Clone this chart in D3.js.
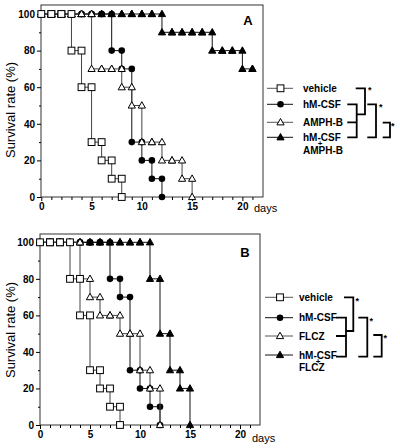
<!DOCTYPE html>
<html><head><meta charset="utf-8">
<script src="https://cdn.jsdelivr.net/npm/d3@7"></script>
<style>body{margin:0;background:#fff}svg{display:block}text{font-family:"Liberation Sans",Arial,sans-serif}</style>
</head><body>
<svg id="c" width="400" height="448"></svg>
<script>
// survival (%) at end of each day, index = day
const vehicleA = [100,100,100,80,60,30,20,10,0];
const hmcsfA   = [100,100,100,100,100,100,100,80,70,30,20,10,0];
const amphbA   = [100,100,100,100,100,70,70,70,60,50,30,30,20,20,10,0];
const comboA   = [100,100,100,100,100,100,100,100,100,100,100,100,90,90,90,90,90,80,80,80,70,70];
const vehicleB = [100,100,100,80,60,30,20,10,0];
const hmcsfB   = [100,100,100,100,100,100,100,80,70,30,20,10,0];
const flczB    = [100,100,100,100,80,70,60,60,50,50,30,20,0];
const comboB   = [100,100,100,100,100,100,100,100,100,100,100,80,50,30,20,0];
const yTicks = [0,20,40,60,80,100];
const yMinor = [10,30,50,70,90];
const xTicks = d3.range(0,22);
const labelsA = ["vehicle","hM-CSF","AMPH-B","hM-CSF"];
const labelsB = ["vehicle","hM-CSF","FLCZ","hM-CSF"];
const comboSecondA = "AMPH-B", comboSecondB = "FLCZ";

const svg = d3.select("#c");
const FONT = '"Liberation Sans",Arial,sans-serif';

function marker(g, type, x, y){
  if(type==="square"){
    g.append("rect").attr("x",x-3.4).attr("y",y-3.4).attr("width",6.8).attr("height",6.8)
      .attr("fill","#fff").attr("stroke","#000").attr("stroke-width",1);
  } else if(type==="circle"){
    g.append("circle").attr("cx",x).attr("cy",y).attr("r",3.3).attr("fill","#000");
  } else {
    const filled = type==="triFilled";
    g.append("path").attr("d",`M${x},${y-3.8}L${x+3.6},${y+2.6}L${x-3.6},${y+2.6}Z`)
      .attr("fill",filled?"#000":"#fff").attr("stroke","#000").attr("stroke-width",1);
  }
}

function panel(cfg){
  const {x,y,frame,series,letter,letterPos,daysPos,titleY} = cfg;
  const g = svg.append("g");
  g.append("rect").attr("x",frame[0]).attr("y",frame[1]).attr("width",frame[2]-frame[0]).attr("height",frame[3]-frame[1])
    .attr("fill","none").attr("stroke","#333").attr("stroke-width",1);
  const ya = g.append("g").attr("transform",`translate(${frame[0]},0)`)
    .call(d3.axisLeft(y).tickValues(yTicks).tickSize(4).tickPadding(2));
  ya.select(".domain").remove();
  ya.selectAll("text").attr("font-family",FONT).attr("font-size",10).attr("font-weight","bold").attr("fill","#000");
  const ym = g.append("g").attr("transform",`translate(${frame[0]},0)`)
    .call(d3.axisLeft(y).tickValues(yMinor).tickSize(2).tickFormat(""));
  ym.select(".domain").remove();
  const xa = g.append("g").attr("transform",`translate(0,${frame[3]})`)
    .call(d3.axisBottom(x).tickValues(xTicks).tickSize(3).tickPadding(3).tickFormat(d=>d%5===0?d:""));
  xa.select(".domain").remove();
  xa.selectAll(".tick line").attr("y2",d=>d%5===0?4:3);
  xa.selectAll("text").attr("font-family",FONT).attr("font-size",10).attr("font-weight","bold").attr("fill","#000");
  g.append("text").attr("transform",`translate(15,${titleY}) rotate(-90)`).attr("text-anchor","middle")
    .attr("font-size",13).text("Survival rate (%)");
  g.append("text").attr("x",daysPos[0]).attr("y",daysPos[1]).attr("font-size",11).text("days");
  g.append("text").attr("x",letterPos[0]).attr("y",letterPos[1]).attr("text-anchor","middle")
    .attr("font-size",13).attr("font-weight","bold").text(letter);
  const line = d3.line().x((d,i)=>x(i)).y(d=>y(d)).curve(d3.curveStepAfter);
  series.forEach(s=>{
    const sg = g.append("g");
    sg.append("path").attr("d",line(s.data)).attr("fill","none").attr("stroke",s.lc).attr("stroke-width",1);
    s.data.forEach((v,i)=>{
      if(i>0) marker(sg,s.type,x(i),y(s.data[i-1]));
      marker(sg,s.type,x(i),y(v));
    });
  });
}

panel({
  x: d3.scaleLinear([0,22],[41.3,262.5]),
  y: d3.scaleLinear([0,100],[197,14]),
  frame:[41,5,263,197],
  series:[
    {data:comboA,type:"triFilled",lc:"#111"},
    {data:hmcsfA,type:"circle",lc:"#111"},
    {data:amphbA,type:"triOpen",lc:"#444"},
    {data:vehicleA,type:"square",lc:"#444"}
  ],
  letter:"A", letterPos:[248,25], daysPos:[254,212], titleY:110
});
panel({
  x: d3.scaleLinear([0,22],[40,260]),
  y: d3.scaleLinear([0,100],[425,242.3]),
  frame:[40,234,260,425],
  series:[
    {data:comboB,type:"triFilled",lc:"#111"},
    {data:hmcsfB,type:"circle",lc:"#111"},
    {data:flczB,type:"triOpen",lc:"#444"},
    {data:vehicleB,type:"square",lc:"#444"}
  ],
  letter:"B", letterPos:[245,257], daysPos:[252,442], titleY:330
});

function legend(cfg){
  const g = svg.append("g");
  const types=["square","circle","triOpen","triFilled"];
  cfg.rows.forEach((ry,i)=>{
    g.append("line").attr("x1",cfg.lx[0]).attr("x2",cfg.lx[1]).attr("y1",ry).attr("y2",ry)
      .attr("stroke",i%2===0?"#555":"#111").attr("stroke-width",1);
    marker(g,types[i],cfg.mx,ry);
    g.append("text").attr("x",cfg.tx).attr("y",ry+3.6).attr("font-size",10).attr("font-weight","bold").text(cfg.labels[i]);
  });
  g.append("text").attr("x",cfg.plus[0]).attr("y",cfg.plus[1]+3).attr("text-anchor","middle")
    .attr("font-size",8).attr("font-weight","bold").text("+");
  g.append("text").attr("x",cfg.tx).attr("y",cfg.second+3.6).attr("font-size",10).attr("font-weight","bold").text(cfg.secondLabel);
  const pth = g.append("g").attr("fill","none").attr("stroke","#000").attr("stroke-width",1.8);
  cfg.brackets.forEach(b=>{ pth.append("path").attr("d",b); });
  cfg.stars.forEach(s=>{
    g.append("text").attr("x",s[0]).attr("y",s[1]+5).attr("font-size",9).attr("font-weight","bold").attr("fill","#000").text("*");
  });
}

legend({
  rows:[88.3,104.3,122.3,137.3], lx:[267,293], mx:280.5, tx:303,
  labels:labelsA, plus:[320,143], second:150.5, secondLabel:comboSecondA,
  brackets:[
    "M355.7,88.3H365V114.3H356.7",
    "M347.3,104.3H356.7V137.3H347.3M347.3,122.3H356.7",
    "M367.3,104.3H376V137.3H367.3",
    "M382.7,122.7H390V137.3H382.7"
  ],
  stars:[[368,88.3],[379,105],[391,123.5]]
});
legend({
  rows:[297.3,317.7,336,355], lx:[265,293], mx:280, tx:299,
  labels:labelsB, plus:[318,360.5], second:367.5, secondLabel:comboSecondB,
  brackets:[
    "M344,297.3H353.3V331H346",
    "M336,317.7H346V356.7H336M336,336H346",
    "M358.3,317.7H367.3V356.7H358.3",
    "M373.3,335H381.7V356.7H373.3"
  ],
  stars:[[355.5,299],[369.5,318.5],[383.5,336]]
});
</script>
</body></html>
